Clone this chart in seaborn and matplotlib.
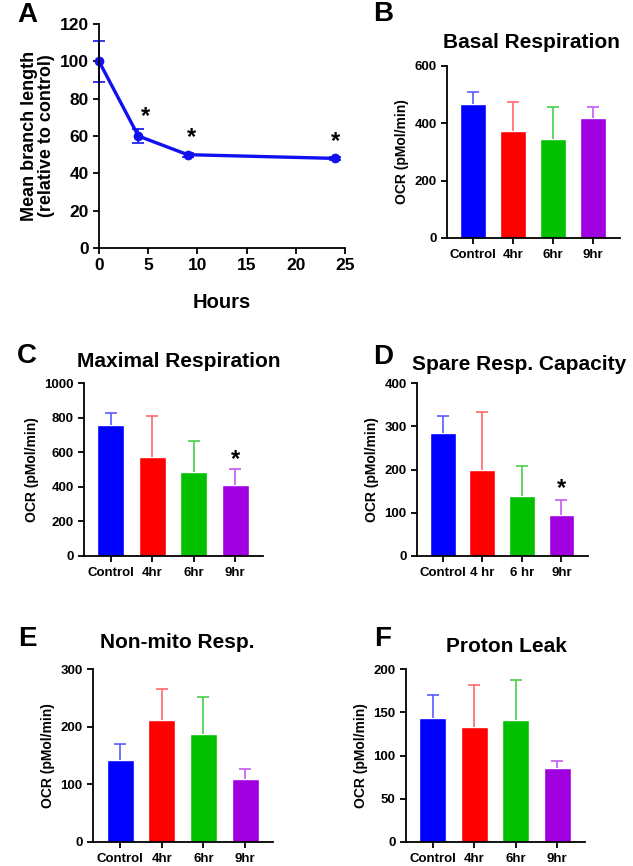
import numpy as np
import pandas as pd
import seaborn as sns
import matplotlib.pyplot as plt

# ----------------------------
# Data
# ----------------------------
hours = [0, 4, 9, 24]
branch_mean = [100, 60, 50, 48]
branch_sem = [11, 3.5, 1, 1]

groups = ["Control", "4hr", "6hr", "9hr"]
groups_d = ["Control", "4 hr", "6 hr", "9hr"]

basal_mean = [468, 372, 345, 418]
basal_sem = [42, 103, 113, 40]

maximal_mean = [755, 575, 483, 413]
maximal_sem = [73, 233, 182, 92]

spare_mean = [285, 200, 138, 95]
spare_sem = [38, 132, 69, 34]

nonmito_mean = [143, 212, 188, 110]
nonmito_sem = [27, 53, 64, 17]

leak_mean = [143, 133, 141, 85]
leak_sem = [27, 49, 46, 9]

bar_colors = ["#0000FF", "#FF0000", "#00C000", "#A000E0"]
err_colors = ["#5A5AFF", "#FF6A6A", "#48D048", "#C45AF0"]

sns.set_style("ticks")
plt.rcParams["font.family"] = ["Liberation Sans", "DejaVu Sans"]
plt.rcParams["font.weight"] = "bold"
plt.rcParams["axes.linewidth"] = 1.3
plt.rcParams["text.color"] = "black"
plt.rcParams["axes.labelcolor"] = "black"
plt.rcParams["xtick.color"] = "black"
plt.rcParams["ytick.color"] = "black"
plt.rcParams["axes.edgecolor"] = "black"

W, H = 633, 866
fig = plt.figure(figsize=(W / 100, H / 100), dpi=100)


def px_axes(left, top, right, bottom):
    # pixel box -> figure fraction axes
    return fig.add_axes([left / W, 1 - bottom / H, (right - left) / W, (bottom - top) / H])


def style(ax, fs):
    sns.despine(ax=ax)
    ax.tick_params(axis="both", length=4, width=1.3, labelsize=fs, colors="black")
    for lab in ax.get_xticklabels() + ax.get_yticklabels():
        lab.set_fontweight("bold")


# ----------------------------
# Panel A: line plot
# ----------------------------
axA = px_axes(99, 24, 345, 248)
dfA = pd.DataFrame({"hours": hours, "value": branch_mean})
sns.lineplot(data=dfA, x="hours", y="value", ax=axA, color="#1010F0",
             linewidth=2.4, marker="o", markersize=7, markeredgewidth=0, clip_on=False)
eb = axA.errorbar(hours, branch_mean, yerr=branch_sem, fmt="none",
                  ecolor="#1010F0", elinewidth=1.2, capsize=4, capthick=1.2)
for art in list(eb[1]) + list(eb[2]):
    art.set_clip_on(False)
axA.set_xlim(0, 25)
axA.set_ylim(0, 120)
axA.set_xticks([0, 5, 10, 15, 20, 25])
axA.set_yticks([0, 20, 40, 60, 80, 100, 120])
axA.set_xlabel("Hours", fontsize=14.5, fontweight="bold", labelpad=14)
axA.set_ylabel("Mean branch length\n(relative to control)", fontsize=13,
               fontweight="bold", labelpad=3, linespacing=1.0)
style(axA, 12.5)
for x, y in [(4.7, 70.5), (9.4, 59), (24.0, 57)]:
    axA.text(x, y, "*", fontsize=17, fontweight="bold", ha="center", va="center")

# ----------------------------
# Bar panels
# ----------------------------
def bar_panel(box, labels, mean, sem, ymax, step, title, title_xy, star=None):
    ax = px_axes(*box)
    df = pd.DataFrame({"group": labels, "ocr": mean})
    sns.barplot(data=df, x="group", y="ocr", hue="group", palette=bar_colors,
                legend=False, width=0.65, saturation=1, ax=ax)
    for i in range(len(labels)):
        eb = ax.errorbar(i, mean[i], yerr=[[0], [sem[i]]], fmt="none",
                         ecolor=err_colors[i], elinewidth=1.2, capsize=4.5, capthick=1.2)
        # upward-only bars: hide the cap sitting on the bar top
        for cap in eb[1]:
            if np.isclose(cap.get_ydata()[0], mean[i]):
                cap.set_visible(False)
    ax.set_xlim(-0.65, 3.67)
    ax.set_ylim(0, ymax)
    ax.set_yticks(np.arange(0, ymax + 1, step))
    ax.set_xlabel("")
    ax.set_ylabel("OCR (pMol/min)", fontsize=10, fontweight="bold", labelpad=4)
    style(ax, 9.5)
    ax.tick_params(axis="x", pad=4)
    fig.text(title_xy[0] / W, 1 - title_xy[1] / H, title, fontsize=15,
             fontweight="bold", ha="center", va="center")
    if star is not None:
        ax.text(3, star, "*", fontsize=17, fontweight="bold", ha="center", va="center")
    return ax


bar_panel((447, 66, 620, 238), groups, basal_mean, basal_sem, 600, 200,
          "Basal Respiration", (531, 42))
bar_panel((84, 383, 263, 556), groups, maximal_mean, maximal_sem, 1000, 200,
          "Maximal Respiration", (179, 361), star=560)
bar_panel((417, 383, 588, 556), groups_d, spare_mean, spare_sem, 400, 100,
          "Spare Resp. Capacity", (519, 365), star=155)
bar_panel((93, 669, 273, 842), groups, nonmito_mean, nonmito_sem, 300, 100,
          "Non-mito Resp.", (177, 643))
bar_panel((406, 669, 585, 842), groups, leak_mean, leak_sem, 200, 50,
          "Proton Leak", (506, 647))

# Panel letters
for letter, (x, y) in {"A": (27, 15), "B": (383, 14), "C": (27, 356),
                       "D": (383, 357), "E": (27, 639), "F": (383, 639)}.items():
    fig.text(x / W, 1 - y / H, letter, fontsize=20, fontweight="bold",
             ha="center", va="center")

fig.savefig("out.png", dpi=100)
